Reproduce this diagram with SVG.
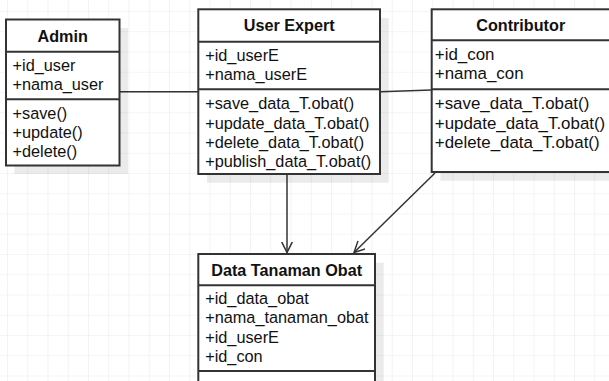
<svg xmlns="http://www.w3.org/2000/svg" width="609" height="381" viewBox="0 0 609 381">
<defs>
<pattern id="grid" x="7" y="11" width="20.25" height="20.25" patternUnits="userSpaceOnUse">
<path d="M0,0 V20.25 M0,0 H20.25" fill="none" stroke="#ececec" stroke-width="1.2"/>
</pattern>
<marker id="open" markerWidth="13" markerHeight="13" refX="11" refY="5.5" orient="auto" markerUnits="userSpaceOnUse">
<path d="M0,0 L11,5.5 L0,11" fill="none" stroke="#333" stroke-width="1.5"/>
</marker>
</defs>
<style>
.box{fill:#fff;stroke:#333;stroke-width:2}
.shadow{fill:#000;fill-opacity:0.08}
.div{stroke:#333;stroke-width:2}
.title{font-family:"Liberation Sans",Arial,sans-serif;font-size:16.2px;font-weight:bold;fill:#111;text-anchor:middle}
.t{font-family:"Liberation Sans",Arial,sans-serif;font-size:16.3px;fill:#111}
.tc{font-family:"Liberation Sans",Arial,sans-serif;font-size:16.9px;fill:#111}
.conn{stroke:#333;stroke-width:1.5;fill:none}
</style>
<rect width="609" height="381" fill="#fff"/>
<rect width="609" height="381" fill="url(#grid)"/>

<g id="connectors">
<line class="conn" x1="120" y1="91.7" x2="198.3" y2="91.7"/>
<line class="conn" x1="380" y1="91.7" x2="431.7" y2="90"/>
<line class="conn" x1="287" y1="174" x2="287" y2="252.5" marker-end="url(#open)"/>
<line class="conn" x1="435" y1="173" x2="354" y2="252.5" marker-end="url(#open)"/>
</g>

<g id="admin">
<rect class="shadow" x="14.5" y="28" width="113.5" height="146"/>
<rect class="box" x="6" y="19.5" width="113.5" height="146"/>
<line class="div" x1="6" y1="51.7" x2="119.5" y2="51.7"/>
<line class="div" x1="6" y1="99.3" x2="119.5" y2="99.3"/>
<text class="title" x="62.7" y="41.5">Admin</text>
<text class="t" x="12.5" y="71">+id_user</text>
<text class="t" x="12.5" y="90">+nama_user</text>
<text class="t" x="12.5" y="119">+save()</text>
<text class="t" x="12.5" y="138">+update()</text>
<text class="t" x="12.5" y="157">+delete()</text>
</g>

<g id="user-expert">
<rect class="shadow" x="207" y="18" width="181.7" height="164.7"/>
<rect class="box" x="198.3" y="9.3" width="181.7" height="164.7"/>
<line class="div" x1="198.3" y1="41.7" x2="380" y2="41.7"/>
<line class="div" x1="198.3" y1="89.3" x2="380" y2="89.3"/>
<text class="title" x="289.2" y="31">User Expert</text>
<text class="t" x="205.2" y="61">+id_userE</text>
<text class="t" x="205.2" y="80">+nama_userE</text>
<text class="t" x="205.2" y="109.3">+save_data_T.obat()</text>
<text class="t" x="205.2" y="128.5">+update_data_T.obat()</text>
<text class="t" x="205.2" y="147.7">+delete_data_T.obat()</text>
<text class="t" x="205.2" y="166.9">+publish_data_T.obat()</text>
</g>

<g id="contributor">
<rect class="shadow" x="440.4" y="18" width="180" height="162.7"/>
<rect class="box" x="431.7" y="9.3" width="180" height="162.7"/>
<line class="div" x1="431.7" y1="40.3" x2="611.7" y2="40.3"/>
<line class="div" x1="431.7" y1="89.3" x2="611.7" y2="89.3"/>
<text class="title" x="520.7" y="31">Contributor</text>
<text class="tc" x="434.8" y="60">+id_con</text>
<text class="tc" x="434.8" y="79">+nama_con</text>
<text class="tc" x="434.8" y="109.3">+save_data_T.obat()</text>
<text class="tc" x="434.8" y="128.5">+update_data_T.obat()</text>
<text class="tc" x="434.8" y="147.7">+delete_data_T.obat()</text>
</g>

<g id="data-tanaman-obat">
<rect class="shadow" x="207" y="262.7" width="176.7" height="200"/>
<rect class="box" x="198.3" y="254" width="176.7" height="200"/>
<line class="div" x1="198.3" y1="285.3" x2="375" y2="285.3"/>
<line class="div" x1="198.3" y1="371" x2="375" y2="371"/>
<text class="title" x="286.7" y="275.7">Data Tanaman Obat</text>
<text class="t" x="205.2" y="304">+id_data_obat</text>
<text class="t" x="205.2" y="323.3">+nama_tanaman_obat</text>
<text class="t" x="205.2" y="342.5">+id_userE</text>
<text class="t" x="205.2" y="361.7">+id_con</text>
</g>
</svg>
